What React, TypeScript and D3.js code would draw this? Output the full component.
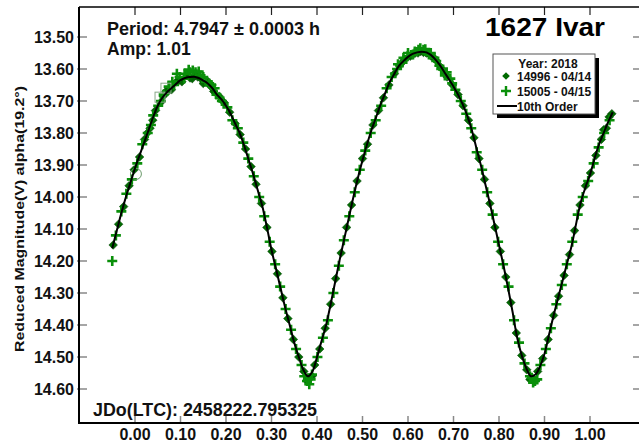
import React from 'react';
import * as d3 from 'd3';

const xTicks = [0, 0.1, 0.2, 0.3, 0.4, 0.5, 0.6, 0.7, 0.8, 0.9, 1.0];
const yTicks = [13.5, 13.6, 13.7, 13.8, 13.9, 14.0, 14.1, 14.2, 14.3, 14.4, 14.5, 14.6];

const fitPhase = [-0.05,-0.04,-0.03,-0.02,-0.01,0,0.01,0.02,0.03,0.04,0.05,0.06,0.07,0.08,0.09,0.1,0.11,0.12,0.13,0.14,0.15,0.16,0.17,0.18,0.19,0.2,0.21,0.22,0.23,0.24,0.25,0.26,0.27,0.28,0.29,0.3,0.31,0.32,0.33,0.34,0.35,0.36,0.37,0.38,0.39,0.4,0.41,0.42,0.43,0.44,0.45,0.46,0.47,0.48,0.49,0.5,0.51,0.52,0.53,0.54,0.55,0.56,0.57,0.58,0.59,0.6,0.61,0.62,0.63,0.64,0.65,0.66,0.67,0.68,0.69,0.7,0.71,0.72,0.73,0.74,0.75,0.76,0.77,0.78,0.79,0.8,0.81,0.82,0.83,0.84,0.85,0.86,0.87,0.88,0.89,0.9,0.91,0.92,0.93,0.94,0.95,0.96,0.97,0.98,0.99,1.0,1.01,1.02,1.03,1.04,1.05];
const fitMag = [14.16,14.105,14.05,14.0,13.955,13.91,13.87,13.83,13.79,13.75,13.715,13.69,13.673,13.66,13.647,13.635,13.628,13.625,13.624,13.628,13.636,13.645,13.66,13.68,13.695,13.715,13.74,13.77,13.8,13.84,13.885,13.93,13.98,14.03,14.095,14.165,14.225,14.285,14.345,14.4,14.455,14.5,14.54,14.56,14.545,14.5,14.45,14.4,14.335,14.265,14.195,14.13,14.065,14.0,13.94,13.885,13.835,13.79,13.75,13.71,13.675,13.64,13.615,13.59,13.575,13.562,13.553,13.548,13.546,13.548,13.556,13.57,13.588,13.61,13.632,13.655,13.68,13.71,13.745,13.79,13.845,13.9,13.96,14.02,14.085,14.15,14.215,14.285,14.36,14.44,14.495,14.535,14.56,14.555,14.53,14.49,14.43,14.37,14.315,14.26,14.205,14.15,14.08,14.015,13.97,13.93,13.88,13.835,13.8,13.765,13.735];

const s14996Phase = [-0.048,-0.036,-0.025,-0.013,-0.002,0.01,0.021,0.033,0.045,0.056,0.068,0.08,0.091,0.103,0.115,0.126,0.138,0.15,0.161,0.173,0.185,0.196,0.208,0.22,0.231,0.243,0.255,0.266,0.278,0.29,0.301,0.313,0.325,0.336,0.348,0.36,0.371,0.383,0.395,0.406,0.418,0.43,0.441,0.453,0.465,0.476,0.488,0.5,0.511,0.523,0.535,0.546,0.558,0.57,0.581,0.593,0.605,0.616,0.628,0.64,0.651,0.663,0.675,0.686,0.698,0.71,0.721,0.733,0.745,0.756,0.768,0.78,0.791,0.803,0.815,0.826,0.838,0.85,0.861,0.873,0.885,0.896,0.908,0.92,0.931,0.943,0.955,0.966,0.978,0.99,1.001,1.013,1.025,1.036,1.048,
  0.097,0.121,0.132,0.145,0.167,0.062,0.074,0.027,0.039,0.587,0.61,0.622,0.634,0.646,0.657,0.669,0.681,0.378,0.389,0.868,0.879,1.042,1.03];
const s14996Mag = [14.15,14.085,14.03,13.965,13.915,13.875,13.82,13.785,13.73,13.705,13.67,13.665,13.64,13.64,13.62,13.63,13.625,13.645,13.64,13.67,13.685,13.705,13.735,13.77,13.805,13.85,13.905,13.96,14.02,14.095,14.17,14.24,14.315,14.38,14.445,14.5,14.545,14.565,14.525,14.475,14.41,14.335,14.255,14.175,14.095,14.025,13.95,13.88,13.835,13.775,13.73,13.69,13.65,13.615,13.59,13.57,13.56,13.55,13.545,13.55,13.56,13.575,13.6,13.625,13.65,13.68,13.715,13.76,13.815,13.88,13.945,14.02,14.095,14.17,14.25,14.33,14.425,14.495,14.54,14.565,14.545,14.505,14.445,14.37,14.31,14.245,14.18,14.105,14.025,13.965,13.925,13.87,13.82,13.785,13.74,
  13.635,13.628,13.62,13.63,13.655,13.685,13.668,13.8,13.76,13.58,13.556,13.55,13.548,13.552,13.565,13.59,13.615,14.575,14.56,14.57,14.575,13.75,13.79];

const s15005Phase = [-0.05,-0.042,-0.03,-0.019,-0.007,0.005,0.016,0.028,0.04,0.051,0.063,0.074,0.086,0.098,0.109,0.121,0.133,0.144,0.156,0.168,0.179,0.191,0.203,0.214,0.226,0.238,0.249,0.261,0.273,0.284,0.296,0.308,0.319,0.331,0.343,0.354,0.366,0.378,0.389,0.401,0.413,0.424,0.436,0.448,0.459,0.471,0.483,0.494,0.506,0.518,0.529,0.541,0.553,0.564,0.576,0.588,0.599,0.611,0.623,0.634,0.646,0.658,0.669,0.681,0.693,0.704,0.716,0.728,0.739,0.751,0.763,0.774,0.786,0.798,0.809,0.821,0.833,0.844,0.856,0.868,0.879,0.891,0.903,0.914,0.926,0.938,0.949,0.961,0.973,0.984,0.996,1.008,1.019,1.031,1.043,
  0.092,0.118,0.127,0.14,0.15,0.163,0.175,0.186,0.108,0.082,0.6,0.615,0.627,0.638,0.65,0.662,0.673,0.59,0.578,0.685,0.697,0.372,0.383,0.386,0.875,0.872,0.884,0.035,0.057];
const s15005Mag = [14.2,14.12,14.045,13.99,13.945,13.895,13.835,13.8,13.745,13.715,13.68,13.655,13.65,13.625,13.615,13.61,13.61,13.62,13.64,13.65,13.68,13.7,13.72,13.76,13.785,13.83,13.88,13.935,14.0,14.06,14.14,14.21,14.28,14.35,14.415,14.475,14.525,14.575,14.555,14.5,14.44,14.385,14.3,14.215,14.135,14.06,13.985,13.915,13.855,13.8,13.76,13.715,13.66,13.625,13.6,13.58,13.56,13.555,13.54,13.54,13.555,13.565,13.59,13.62,13.63,13.665,13.7,13.74,13.785,13.86,13.915,13.985,14.055,14.14,14.21,14.28,14.385,14.455,14.52,14.56,14.575,14.525,14.475,14.41,14.335,14.275,14.21,14.14,14.055,14.0,13.95,13.895,13.845,13.8,13.76,
  13.615,13.602,13.605,13.608,13.625,13.645,13.66,13.69,13.63,13.64,13.55,13.545,13.535,13.538,13.55,13.575,13.6,13.565,13.585,13.61,13.645,14.56,14.585,14.57,14.58,14.565,14.57,13.775,13.7];

const squarePhase = [0.055, 0.068];
const squareMag = [13.688, 13.66];
const circlePhase = [0.002];
const circleMag = [13.928];

const legendLabels = ['Year: 2018', '14996 - 04/14', '15005 - 04/15', '10th Order'];

const FONT = "'Liberation Sans', Arial, Helvetica, sans-serif";
const DCOL = '#006a00';
const PCOL = '#0a8f0a';

function diamond(cx: number, cy: number, r: number) {
  return `M${cx},${cy - r}L${cx + r},${cy}L${cx},${cy + r}L${cx - r},${cy}Z`;
}
function plus(cx: number, cy: number, r: number) {
  return `M${cx - r},${cy}H${cx + r}M${cx},${cy - r}V${cy + r}`;
}

export default function App() {
  const x = d3.scaleLinear().domain([-0.12308, 1.10989]).range([79, 640]);
  const y = d3.scaleLinear().domain([13.40625, 14.70625]).range([7, 423]);
  const fit = fitPhase.map((p, i) => [p, fitMag[i]] as [number, number]);
  const line = d3.line<[number, number]>().x(d => x(d[0])).y(d => y(d[1])).curve(d3.curveCatmullRom);
  const L = 79, R = 640, T = 7, B = 423;

  return (
    <svg width={639} height={443} style={{ position: 'absolute', left: 0, top: 0, background: '#fff' }} fontFamily={FONT}>
      <rect x={0} y={0} width={639} height={443} fill="#fff" />
      {yTicks.map(t => (
        <g key={'y' + t}>
          <line x1={L - 2} x2={L + 8} y1={y(t)} y2={y(t)} stroke="#888" strokeWidth={1.5} />
          <line x1={R - 7} x2={R} y1={y(t)} y2={y(t)} stroke="#888" strokeWidth={1.5} />
          <text x={74} y={y(t) + 6} textAnchor="end" fontSize={16} fontWeight="bold" fill="#111">{t.toFixed(2)}</text>
        </g>
      ))}
      {xTicks.map(t => (
        <g key={'x' + t}>
          <line x1={x(t)} x2={x(t)} y1={T} y2={T + 8} stroke="#222" strokeWidth={1.2} />
          <line x1={x(t)} x2={x(t)} y1={B - 7} y2={B} stroke="#888" strokeWidth={1.5} />
          <text x={x(t)} y={440} textAnchor="middle" fontSize={16} fontWeight="bold" fill="#111">{t.toFixed(2)}</text>
        </g>
      ))}
      <line x1={L} x2={L} y1={T} y2={B} stroke="#000" strokeWidth={2} />
      <line x1={L} x2={R} y1={T} y2={T} stroke="#000" strokeWidth={1.5} />
      <line x1={L - 1} x2={R} y1={B} y2={B} stroke="#000" strokeWidth={2} />

      {s14996Phase.map((p, i) => (
        <path key={'d' + i} d={diamond(x(p), y(s14996Mag[i]), 4.3)} fill={DCOL} stroke="#0b4d0b" strokeWidth={0.6} />
      ))}
      {s15005Phase.map((p, i) => (
        <path key={'p' + i} d={plus(x(p), y(s15005Mag[i]), 5)} stroke={PCOL} strokeWidth={2.6} fill="none" />
      ))}
      {squarePhase.map((p, i) => (
        <rect key={'s' + i} x={x(p) - 5} y={y(squareMag[i]) - 5} width={10} height={10} fill="none" stroke="#8aa88a" strokeWidth={1} />
      ))}
      {circlePhase.map((p, i) => (
        <circle key={'c' + i} cx={x(p)} cy={y(circleMag[i])} r={5.5} fill="none" stroke="#6a9a6a" strokeWidth={1} />
      ))}
      <path d={line(fit) || ''} fill="none" stroke="#000" strokeWidth={2} />

      <text x={107} y={35} fontSize={17.5} fontWeight="bold" fill="#111" textLength={213} lengthAdjust="spacingAndGlyphs">Period: 4.7947 ± 0.0003 h</text>
      <text x={107} y={55} fontSize={17.5} fontWeight="bold" fill="#111">Amp: 1.01</text>
      <text x={485} y={36} fontSize={26} fontWeight="bold" fill="#000" textLength={120} lengthAdjust="spacingAndGlyphs">1627 Ivar</text>
      <text x={93} y={416} fontSize={17.5} fontWeight="bold" fill="#111" textLength={224} lengthAdjust="spacingAndGlyphs">JDo(LTC): 2458222.795325</text>
      <text transform="translate(24,219) rotate(-90)" textAnchor="middle" fontSize={13.5} fontWeight="bold" fill="#111" textLength={266} lengthAdjust="spacingAndGlyphs">Reduced Magnitude(V) alpha(19.2°)</text>

      <rect x={497} y={58} width={102} height={60} fill="#000" />
      <rect x={493} y={54} width={102} height={60} fill="#fff" stroke="#555" strokeWidth={1} />
      <text x={548} y={68} textAnchor="middle" fontSize={12} fontWeight="bold" fill="#111">{legendLabels[0]}</text>
      <path d={diamond(506, 76, 3.8)} fill={DCOL} />
      <text x={517} y={81} fontSize={12} fontWeight="bold" fill="#111">{legendLabels[1]}</text>
      <path d={plus(506, 91, 5)} stroke={PCOL} strokeWidth={2.4} fill="none" />
      <text x={517} y={96} fontSize={12} fontWeight="bold" fill="#111">{legendLabels[2]}</text>
      <line x1={497} x2={517} y1={106} y2={106} stroke="#000" strokeWidth={2} />
      <text x={517} y={110.5} fontSize={12} fontWeight="bold" fill="#111">{legendLabels[3]}</text>
    </svg>
  );
}
